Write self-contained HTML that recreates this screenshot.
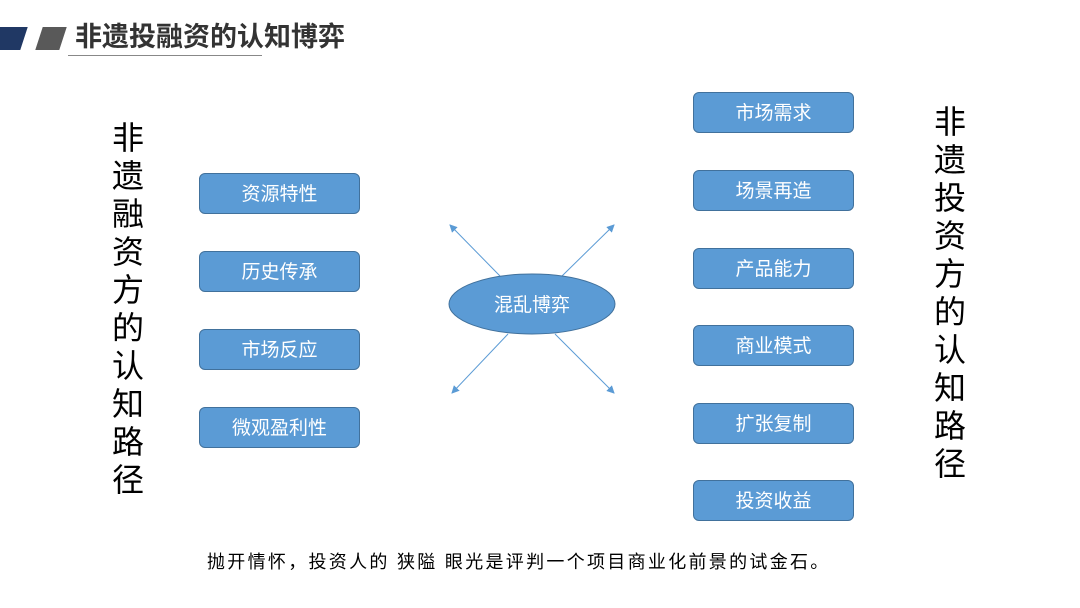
<!DOCTYPE html>
<html><head><meta charset="utf-8"><style>
body{margin:0;width:1080px;height:608px;background:#fff;position:relative;overflow:hidden;font-family:"Liberation Sans","Noto Sans CJK SC",sans-serif}
.b{position:absolute;width:161px;height:41px;background:#5b9bd5;border:1px solid #41719c;border-radius:6px;color:#fff;font-size:19px;line-height:41px;text-align:center;box-sizing:border-box}
.v{position:absolute;font-size:32px;color:#000;text-align:center;width:40px}
.v div{height:38px;line-height:38px}
</style></head><body>
<div style="position:absolute;left:-6px;top:27px;width:30px;height:23px;background:#203864;transform:skewX(-18deg)"></div>
<div style="position:absolute;left:39px;top:27px;width:24px;height:23px;background:#595959;transform:skewX(-18deg)"></div>
<div style="position:absolute;left:75px;top:19px;font-size:27px;font-weight:bold;color:#333;line-height:36px">非遗投融资的认知博弈</div>
<div style="position:absolute;left:68px;top:55px;width:194px;height:1px;background:#888"></div>

<div class="v" style="left:108px;top:119px"><div>非</div><div>遗</div><div>融</div><div>资</div><div>方</div><div>的</div><div>认</div><div>知</div><div>路</div><div>径</div></div>
<div class="v" style="left:930px;top:103px"><div>非</div><div>遗</div><div>投</div><div>资</div><div>方</div><div>的</div><div>认</div><div>知</div><div>路</div><div>径</div></div>

<div class="b" style="left:199px;top:173px">资源特性</div>
<div class="b" style="left:199px;top:251px">历史传承</div>
<div class="b" style="left:199px;top:329px">市场反应</div>
<div class="b" style="left:199px;top:407px">微观盈利性</div>

<div class="b" style="left:693px;top:92px">市场需求</div>
<div class="b" style="left:693px;top:170px">场景再造</div>
<div class="b" style="left:693px;top:248px">产品能力</div>
<div class="b" style="left:693px;top:325px">商业模式</div>
<div class="b" style="left:693px;top:403px">扩张复制</div>
<div class="b" style="left:693px;top:480px">投资收益</div>

<svg style="position:absolute;left:0;top:0" width="1080" height="608">
<defs><marker id="a" markerWidth="8" markerHeight="8" refX="7" refY="4" orient="auto" markerUnits="userSpaceOnUse"><path d="M0,0 L8,4 L0,8 Z" fill="#5b9bd5"/></marker></defs>
<g stroke="#5b9bd5" stroke-width="1" marker-end="url(#a)">
<line x1="500" y1="276" x2="450" y2="225"/>
<line x1="562" y1="276" x2="614" y2="225"/>
<line x1="508" y1="334" x2="452" y2="393"/>
<line x1="555" y1="334" x2="614" y2="393"/>
</g>
<ellipse cx="532" cy="304" rx="83" ry="30" fill="#5b9bd5" stroke="#41719c"/>
<text x="532" y="311" font-size="19" fill="#fff" text-anchor="middle" font-family="Liberation Sans, Noto Sans CJK SC, sans-serif">混乱博弈</text>
</svg>

<div style="position:absolute;left:207px;top:550px;font-size:18px;letter-spacing:2.3px;color:#000;line-height:24px;white-space:nowrap">抛开情怀，投资人的 狭隘 眼光是评判一个项目商业化前景的试金石。</div>
</body></html>
